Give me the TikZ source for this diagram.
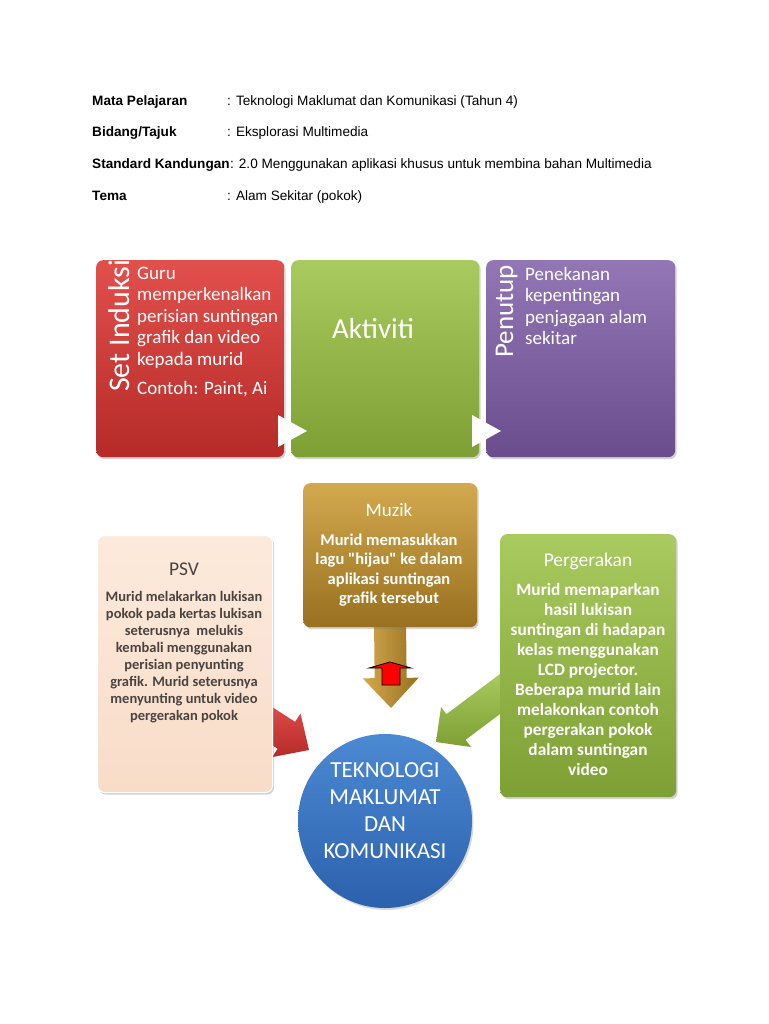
\documentclass[tikz,border=0pt]{standalone}
\usepackage{fontspec}
\setmainfont{Liberation Sans}
\newfontfamily\calib{Carlito}
\usetikzlibrary{calc,shadows}
\definecolor{redTop}{HTML}{E2504C}
\definecolor{redBot}{HTML}{B52A27}
\definecolor{grnTop}{HTML}{A9CA5E}
\definecolor{grnBot}{HTML}{7E9F34}
\definecolor{purTop}{HTML}{9276B6}
\definecolor{purBot}{HTML}{6A4D8D}
\definecolor{goldTop}{HTML}{D3A94F}
\definecolor{goldBot}{HTML}{98701F}
\definecolor{peachTop}{HTML}{FDEADC}
\definecolor{peachBot}{HTML}{F8DCC8}
\definecolor{bluTop}{HTML}{4C89D3}
\definecolor{bluBot}{HTML}{2C61AC}
\definecolor{psvText}{HTML}{4A4440}
\newcommand\blockarr[6]{%
  \coordinate (ba) at ($(#2)!#5!(#1)$);
  \path[#6] ($(#1)!#3!90:(#2)$) -- ($(ba)!#3!90:(#2)$) -- ($(ba)!#4!90:(#2)$) -- (#2)
    -- ($(ba)!#4!-90:(#2)$) -- ($(ba)!#3!-90:(#2)$) -- ($(#1)!#3!-90:(#2)$) -- cycle;}
\begin{document}
\begin{tikzpicture}[x=1pt,y=-1pt,
  hb/.style={anchor=base west, inner sep=0pt, font=\fontsize{13.6}{16}\selectfont\bfseries},
  hr/.style={anchor=base west, inner sep=0pt, font=\fontsize{13.6}{16}\selectfont},
  tbox/.style={rounded corners=7pt, anchor=north west, inner sep=0pt,
    drop shadow={opacity=0.35, shadow xshift=1.5pt, shadow yshift=-2pt}},
  wl/.style={anchor=base west, inner sep=0pt, text=white, font=\calib\fontsize{19}{22}\selectfont},
  big/.style={inner sep=0pt, text=white, font=\calib\fontsize{30}{34}\selectfont},
  ctr/.style={anchor=base, inner sep=0pt, text=white, font=\calib\bfseries\fontsize{16.5}{19}\selectfont},
  ttl/.style={anchor=base, inner sep=0pt, text=white, font=\calib\fontsize{19.5}{22}\selectfont},
  psvl/.style={anchor=base, inner sep=0pt, text=psvText, font=\calib\bfseries\fontsize{14.5}{17}\selectfont},
  cirl/.style={anchor=base, inner sep=0pt, text=white, font=\calib\fontsize{23}{27}\selectfont},
  tri/.style={fill=white}]
\fill[white] (0,0) rectangle (768,1024);
\useasboundingbox (0,0) rectangle (768,1024);

% header
\node[hb] (mp) at (92,106) {Mata Pelajaran};
\node[hr] (mpv) at (227,106) {: Teknologi Maklumat dan Komunikasi (Tahun 4)};
\node[hb] (bt) at (92,137) {Bidang/Tajuk};
\node[hr] (btv) at (227,137) {: Eksplorasi Multimedia};
\node[hb] (sk) at (92,169) {Standard Kandungan};
\node[hr] (skv) at (sk.base east) {: 2.0 Menggunakan aplikasi khusus untuk membina bahan Multimedia};
\node[hb] (tm) at (92,201) {Tema};
\node[hr] (tmv) at (227,201) {: Alam Sekitar (pokok)};

% top row
\node[tbox, minimum width=188pt, minimum height=197pt, top color=redTop, bottom color=redBot] (setind) at (96,260) {};
\node[tbox, minimum width=188pt, minimum height=197pt, top color=grnTop, bottom color=grnBot] (akt) at (291,260) {};
\node[tbox, minimum width=189pt, minimum height=197pt, top color=purTop, bottom color=purBot] (pen) at (486,260) {};
\fill[tri] (278,415) -- (307,431) -- (278,447) -- cycle;
\fill[tri] (472,415) -- (501,431) -- (472,447) -- cycle;

\node[big, rotate=90, anchor=base west] (setlbl) at (129,392) {Set Induksi};
\foreach \t [count=\i from 0] in {Guru, memperkenalkan, perisian suntingan, grafik dan video, kepada murid}
  \node[wl] (si\i) at (137,279+21.5*\i) {\t};
\node[wl] (si5) at (137,394) {Contoh: Paint, Ai};
\node[big, anchor=base, font=\calib\fontsize{29}{34}\selectfont] (aktlbl) at (373,338) {Aktiviti};
\node[big, rotate=90, anchor=base west, font=\calib\fontsize{27}{32}\selectfont] (penlbl) at (513,358) {Penutup};
\foreach \t [count=\i from 0] in {Penekanan, kepentingan, penjagaan alam, sekitar}
  \node[wl] (pe\i) at (525,280+21.5*\i) {\t};

% circle
\node[circle, minimum size=174pt, inner sep=0pt, top color=bluTop, bottom color=bluBot,
  drop shadow={opacity=0.3, shadow xshift=1.5pt, shadow yshift=-2pt}] (tmk) at (385,821) {};

% arrows
\coordinate (rs) at (252,713);
\coordinate (rt) at (309,750);
\blockarr{rs}{rt}{16pt}{26pt}{27pt}{top color=redTop, bottom color=redBot}
\coordinate (gs) at (512,685);
\coordinate (gt) at (436,742);
\blockarr{gs}{gt}{16pt}{25pt}{25pt}{top color=grnTop, bottom color=grnBot}
\coordinate (ms) at (390,620);
\coordinate (mt) at (391,708);
\blockarr{ms}{mt}{16pt}{28pt}{30pt}{left color=goldTop, right color=goldBot}
\draw[fill=red, line width=0.8pt, line join=miter] (382,685) -- (382,668) -- (369,668) -- (390,662) -- (411,668) -- (400,668) -- (400,685) -- cycle;

% bottom boxes
\node[tbox, minimum width=174pt, minimum height=144pt, top color=goldTop, bottom color=goldBot] (muzik) at (303,483) {};
\node[tbox, minimum width=175pt, minimum height=257pt, top color=peachTop, bottom color=peachBot, draw=white, line width=1pt] (psv) at (97,535) {};
\node[tbox, minimum width=176pt, minimum height=263pt, top color=grnTop, bottom color=grnBot] (perg) at (500,534) {};

\node[ttl, font=\calib\fontsize{19}{22}\selectfont] (muzt) at (389,516) {Muzik};
\foreach \t [count=\i from 0] in {Murid memasukkan, lagu "hijau" ke dalam, aplikasi suntingan, grafik tersebut}
  \node[ctr] (mz\i) at (389,545+19.5*\i) {\t};

\node[ttl, text=psvText] (psvt) at (184,575) {PSV};
\foreach \t [count=\i from 0] in {Murid melakarkan lukisan, pokok pada kertas lukisan, seterusnya\ \ melukis, kembali menggunakan, perisian penyunting, grafik. Murid seterusnya, menyunting untuk video, pergerakan pokok}
  \node[psvl] (ps\i) at (184,601+17.1*\i) {\t};

\node[ttl] (pgt) at (588,566) {Pergerakan};
\foreach \t [count=\i from 0] in {Murid memaparkan, hasil lukisan, suntingan di hadapan, kelas menggunakan, LCD projector., Beberapa murid lain, melakonkan contoh, pergerakan pokok, dalam suntingan, video}
  \node[ctr, font=\calib\bfseries\fontsize{17.3}{20}\selectfont] (pg\i) at (588,595+20*\i) {\t};

\foreach \t [count=\i from 0] in {TEKNOLOGI, MAKLUMAT, DAN, KOMUNIKASI}
  \node[cirl] (ck\i) at (385,777+27*\i) {\t};
\end{tikzpicture}
\end{document}
